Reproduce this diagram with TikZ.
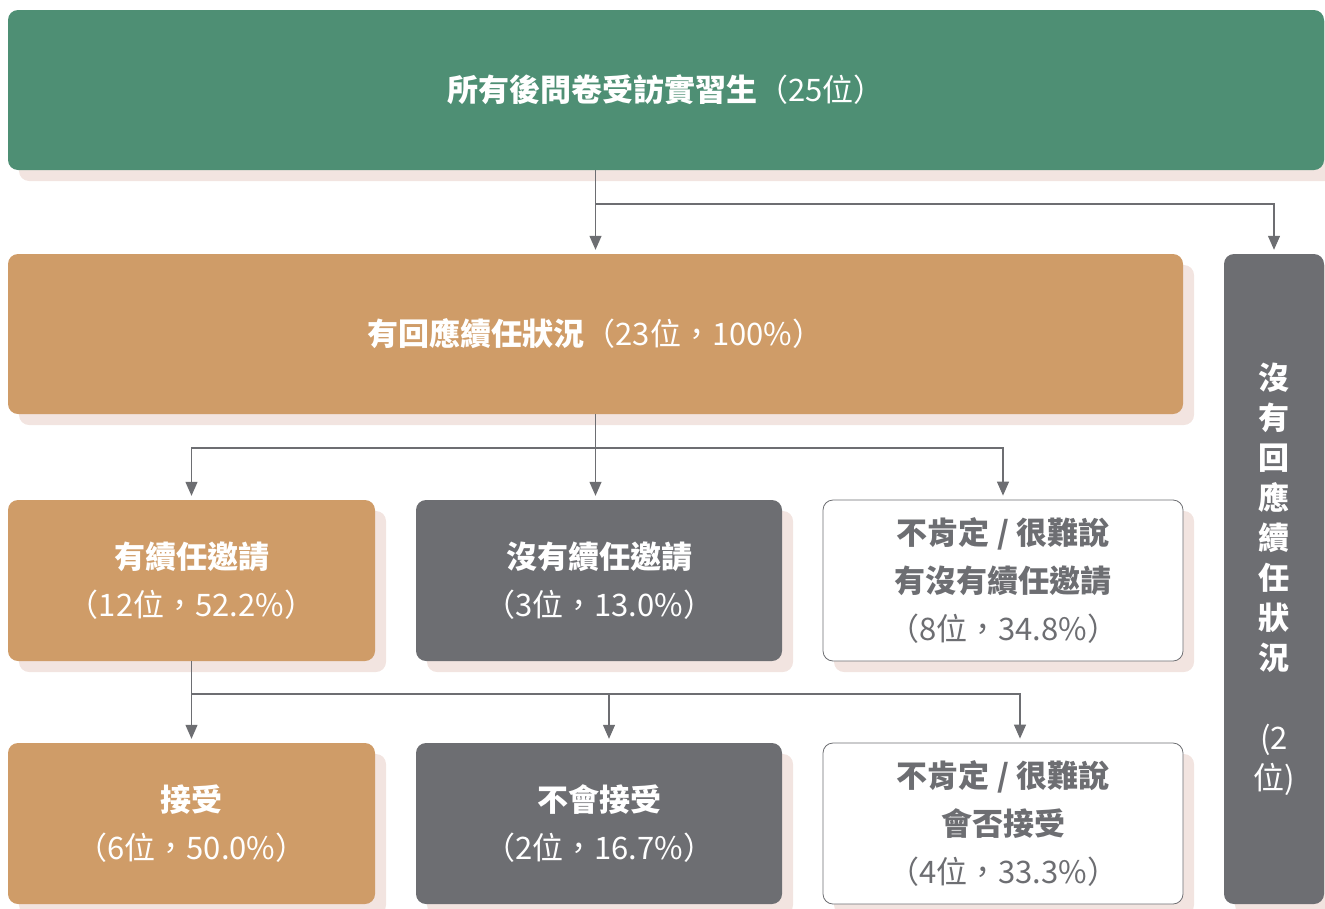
\documentclass[tikz,border=0pt]{standalone}
\usepackage{fontspec}
\setmainfont{Noto Sans CJK TC}
\usetikzlibrary{arrows.meta,shadows}
\definecolor{grn}{HTML}{4E8F74}
\definecolor{org}{HTML}{CF9C68}
\definecolor{gry}{HTML}{6D6E72}
\definecolor{shd}{HTML}{F2E4E0}
\begin{document}
\begin{tikzpicture}[x=1pt,y=-1pt,
  box/.style={rounded corners=10pt, inner sep=0pt, align=center, text=white,
    font=\fontsize{31}{48}\selectfont,
    drop shadow={shadow xshift=11pt, shadow yshift=-11pt, fill=shd, opacity=1}},
  greenbox/.style={box, fill=grn},
  orangebox/.style={box, fill=org},
  graybox/.style={box, fill=gry},
  whitebox/.style={box, fill=white, draw=gry, line width=0.8pt, text=gry},
  rowbox/.style={minimum width=367pt, minimum height=161pt},
  ln/.style={draw=gry, line width=1.2pt},
  arr/.style={ln, -{Triangle[length=14pt,width=12pt]}, shorten >=4pt}
]
\useasboundingbox (0,0) rectangle (1325,908);
\clip (0,0) rectangle (1325,908);

% top
\node[greenbox, minimum width=1316pt, minimum height=160pt] (top) at (666,90)
  {{\bfseries 所有後問卷受訪實習生}（25位）};
% second row
\node[orangebox, minimum width=1175pt, minimum height=160pt] (mid) at (595.5,334)
  {{\bfseries 有回應續任狀況}（23位，100\%）};
\node[graybox, minimum width=100pt, minimum height=650pt, font=\fontsize{31}{40}\selectfont] (right) at (1274,579)
  {{\bfseries 沒}\\{\bfseries 有}\\{\bfseries 回}\\{\bfseries 應}\\{\bfseries 續}\\{\bfseries 任}\\{\bfseries 狀}\\{\bfseries 況}\\[40pt](2\\位)};
% third row
\node[orangebox, rowbox] (a1) at (191.5,580.5) {{\bfseries 有續任邀請}\\（12位，52.2\%）};
\node[graybox, rowbox, minimum width=366pt] (b1) at (599,580.5) {{\bfseries 沒有續任邀請}\\（3位，13.0\%）};
\node[whitebox, rowbox, minimum width=360pt] (c1) at (1003,580.5) {{\bfseries 不肯定 / 很難說}\\{\bfseries 有沒有續任邀請}\\（8位，34.8\%）};
% fourth row
\node[orangebox, rowbox] (a2) at (191.5,823.5) {{\bfseries 接受}\\（6位，50.0\%）};
\node[graybox, rowbox, minimum width=366pt] (b2) at (599,823.5) {{\bfseries 不會接受}\\（2位，16.7\%）};
\node[whitebox, rowbox, minimum width=360pt] (c2) at (1003,823.5) {{\bfseries 不肯定 / 很難說}\\{\bfseries 會否接受}\\（4位，33.3\%）};

% connectors
\coordinate (j1) at (595.5,204);
\coordinate (j2) at (595.5,448);
\coordinate (j3) at (191.5,694);
\draw[arr] (top.south -| mid.north) -- (mid.north);
\draw[arr] (j1) -| (right.north);
\draw[arr] (mid.south) -- (mid.south |- b1.north);
\draw[arr] (j2) -| (a1.north);
\draw[arr] (j2) -| (c1.north);
\draw[arr] (a1.south) -- (a2.north);
\draw[arr] (j3) -| ([xshift=10pt]b2.north);
\draw[arr] (j3) -| ([xshift=17pt]c2.north);
\end{tikzpicture}
\end{document}
